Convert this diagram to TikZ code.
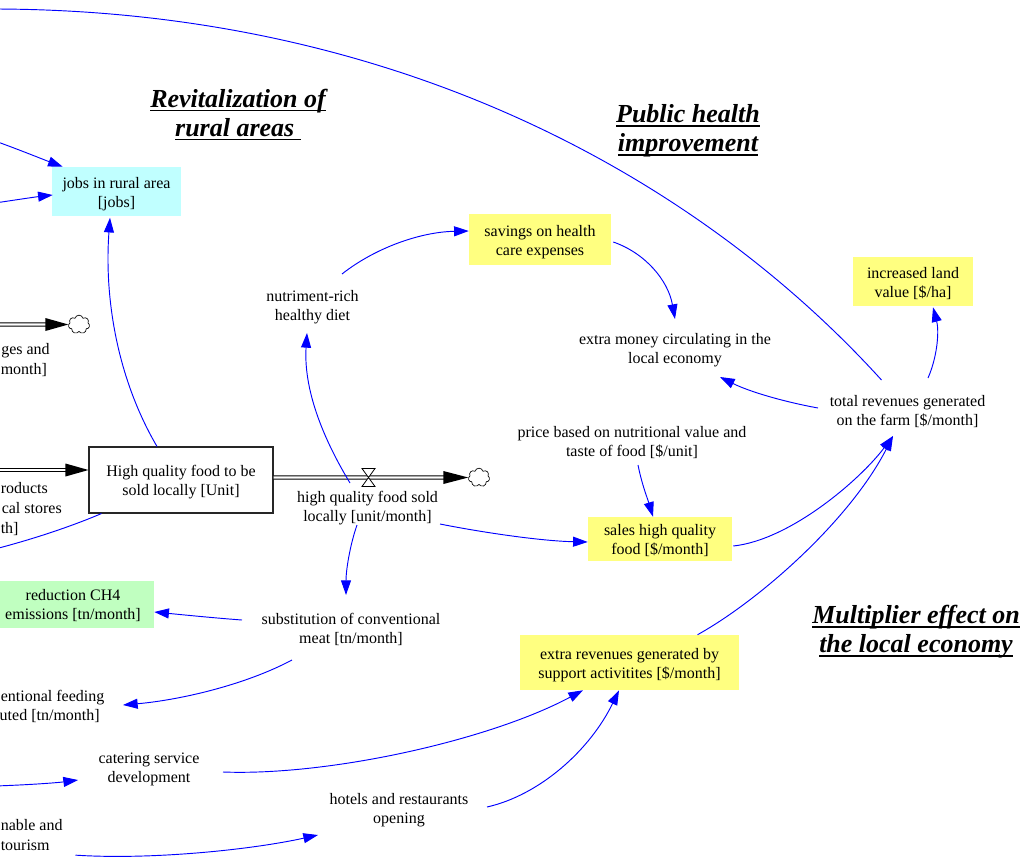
\documentclass[tikz,border=0pt]{standalone}
\usepackage{fontspec}
\setmainfont{Liberation Serif}
\usetikzlibrary{arrows.meta,shapes.symbols,calc}

\definecolor{linkblue}{RGB}{0,0,255}
\definecolor{cyanfill}{RGB}{192,255,255}
\definecolor{yellowfill}{RGB}{255,255,128}
\definecolor{greenfill}{RGB}{192,255,192}

% thick underline for the sector headings
\newsavebox{\ulbox}
\newcommand{\thickul}[1]{\sbox{\ulbox}{#1}\rlap{\rule[-3.2pt]{\wd\ulbox}{1.3pt}}\usebox{\ulbox}}
% fixed first-line height and last-line depth, so every label sits alike
\newcommand{\topstrut}{\rule{0pt}{13pt}}
\newcommand{\botstrut}{\rule[-3.3pt]{0pt}{3.3pt}}

\tikzset{
  lbl/.style={align=center, inner sep=0pt, font=\fontsize{12}{14.25}\selectfont,
              execute at begin node={\topstrut},
              execute at end node={\botstrut}},
  cut/.style={lbl, anchor=east},
  cutleft/.style={lbl, anchor=west},
  aux/.style={lbl, rectangle},
  heading/.style={align=center, inner sep=0pt, font=\fontsize{19.5}{21.75}\selectfont\bfseries\itshape},
  stockbox/.style={lbl, draw=black!85, line width=0.8pt, fill=white},
  link/.style={draw=linkblue, line width=0.7pt, -{Triangle[length=11pt,width=7.5pt]}, fill=none},
  linkout/.style={draw=linkblue, line width=0.7pt, fill=none},
  pipe/.style={double=white, double distance=1.8pt, line width=0.7pt, draw=black},
  sink/.style={cloud, cloud puffs=7, aspect=1.2, draw=black, line width=0.5pt, fill=white,
               minimum width=16pt, minimum height=14pt, inner sep=0pt},
  valvepart/.style={draw=black, line width=0.6pt, fill=white}
}

\begin{document}
\begin{tikzpicture}[x=0.75pt, y=-0.75pt]
\useasboundingbox (0,0) rectangle (1030,860);

% ---------- sector headings ----------
\node[heading] (tRural)  at (238,114.5) {\thickul{Revitalization of}\\\thickul{rural areas\ }};
\node[heading] (tHealth) at (688,130.5) {\thickul{Public health}\\\thickul{improvement}};
\node[heading] (tMult)   at (916,632)   {\thickul{Multiplier effect on}\\\thickul{the local economy}};

% ---------- coloured variables ----------
\node[aux, fill=cyanfill,   minimum width=96.75pt,  minimum height=36.75pt] (jobs)     at (116.5,191.5) {\topstrut jobs in rural area\\{}[jobs]\botstrut};
\node[aux, fill=yellowfill, minimum width=106.5pt,  minimum height=38.25pt] (savings)  at (540,239.5)   {\topstrut savings on health\\care expenses\botstrut};
\node[aux, fill=yellowfill, minimum width=90pt,     minimum height=36.75pt] (land)     at (913,281.5)   {\topstrut increased land\\value [\$/ha]\botstrut};
\node[aux, fill=yellowfill, minimum width=108pt,    minimum height=33pt]    (sales)    at (660,539)     {\topstrut sales high quality\\food [\$/month]\botstrut};
\node[aux, fill=yellowfill, minimum width=164.25pt, minimum height=41.25pt] (extrarev) at (629.5,662.5) {\topstrut extra revenues generated by\\support activitites [\$/month]\botstrut};
\node[aux, fill=greenfill,  minimum width=121.5pt,  minimum height=35.25pt] (ch4)      at (73,604)      {\topstrut reduction CH4\\emissions [tn/month]\botstrut};

% ---------- stock ----------
\node[stockbox, minimum width=138pt, minimum height=49.5pt] (stock) at (181,480) {\topstrut High quality food to be\\sold locally [Unit]\botstrut};

% ---------- plain variables ----------
\node[lbl] (nutri)    at (312.5,305)   {\topstrut nutriment-rich\\healthy diet\botstrut};
\node[lbl] (money)    at (675,348)     {\topstrut extra money circulating in the\\local economy\botstrut};
\node[lbl] (total)    at (907.5,410)   {\topstrut total revenues generated\\on the farm [\$/month]\botstrut};
\node[lbl] (price)    at (632,441)     {\topstrut price based on nutritional value and\\taste of food [\$/unit]\botstrut};
\node[lbl] (flowlbl)  at (367.5,505.5) {\topstrut high quality food sold\\locally [unit/month]\botstrut};
\node[lbl] (subst)    at (351,628)     {\topstrut substitution of conventional\\meat [tn/month]\botstrut};
\node[lbl] (catering) at (149,766.5)   {\topstrut catering service\\development\botstrut};
\node[lbl] (hotels)   at (399,808)     {\topstrut hotels and restaurants\\opening\botstrut};

% ---------- labels running in from the left margin ----------
\node[cut]     (gesA)  at (50,348)  {ges and};
\node[cutleft] (gesB)  at (0.5,368) {month]};
\node[cutleft] (prodA) at (0.5,487) {roducts};
\node[cut]     (prodB) at (62,507)  {cal stores};
\node[cutleft] (prodC) at (0.5,527) {th]};
\node[cutleft] (feedA) at (0.5,695) {entional feeding};
\node[cut]     (feedB) at (100,714) {uted [tn/month]};
\node[cutleft] (tourA) at (0.5,824) {nable and};
\node[cutleft] (tourB) at (0.5,844) {tourism};

% ---------- off-page ends ----------
\coordinate (offTop)   at (-5,9);
\coordinate (offJobsA) at (-5,141);
\coordinate (offJobsB) at (-5,203);
\coordinate (offStock) at (-5,549);
\coordinate (offCater) at (-5,786);
\coordinate (offFlowA) at (-5,324.5);
\coordinate (offFlowB) at (-5,470);

% ---------- flows ----------
\node[sink] (cloudA) at (79,324.5) {};
\node[sink] (cloudB) at (479,477.5) {};

\draw[pipe] (offFlowA) -- ($(cloudA.west)+(-22,0)$);
\fill ($(cloudA.west)+(-23,-6.5)$) -- (cloudA.west) -- ($(cloudA.west)+(-23,6.5)$) -- cycle;

\draw[pipe] (offFlowB) -- ($(stock.west)+(-22,-10)$);
\fill ($(stock.west)+(-23,-16.5)$) -- ($(stock.west)+(0,-10)$) -- ($(stock.west)+(-23,-3.5)$) -- cycle;

\draw[pipe] ($(stock.east)+(0,-2.5)$) -- ($(cloudB.west)+(-24,0)$);
\fill ($(cloudB.west)+(-25,-6.5)$) -- (cloudB.west) -- ($(cloudB.west)+(-25,6.5)$) -- cycle;
% valve on the outflow
\draw[valvepart] (362,468.5) -- (375,468.5) -- (368.5,477.5) -- cycle;
\draw[valvepart] (362,486.5) -- (375,486.5) -- (368.5,477.5) -- cycle;

% ---------- causal links ----------
\draw[linkout] ($(total)+(-26,-30)$) .. controls (700,180) and (400,10) .. (offTop);
\draw[link] (offJobsA) .. controls (20,150) and (42,159) .. ($(jobs.north west)+(11,0)$);
\draw[link] (offJobsB) .. controls (15,200) and (35,197) .. ($(jobs.west)+(1,3.5)$);
\draw[link] ($(stock.north)+(-24,0)$) .. controls (118,380) and (104,300) .. ($(jobs.south)+(-6.5,1.5)$);
\draw[linkout] ($(stock.south west)+(13,0)$) .. controls (70,527) and (30,540) .. (offStock);

\draw[link] ($(flowlbl)+(-17.5,-22.5)$) .. controls (315,425) and (304,380) .. ($(nutri)+(-5.5,28)$);
\draw[link] ($(nutri)+(29.5,-31)$) .. controls (375,248) and (420,232) .. ($(savings.west)+(0,-8.5)$);
\draw[link] ($(savings.east)+(2,2.5)$) .. controls (645,253) and (668,280) .. ($(money)+(0,-29)$);
\draw[link] ($(total)+(-89.5,-2)$) .. controls (785,402) and (750,392) .. ($(money)+(45,29)$);
\draw[link] ($(total)+(20.5,-32)$) .. controls (938,355) and (939,330) .. ($(land.south)+(20,1)$);

\draw[link] ($(price)+(6,24)$) .. controls (642,485) and (648,500) .. ($(sales.north)+(-7,0)$);
\draw[link] ($(flowlbl)+(72.5,18.5)$) .. controls (480,532) and (540,541) .. ($(sales.west)+(0,3)$);
\draw[link] ($(sales.east)+(1,7)$) .. controls (790,540) and (860,480) .. ($(total)+(-14.5,26)$);
\draw[link] ($(extrarev.north)+(68,0)$) .. controls (760,600) and (850,520) .. ($(total)+(-14.5,26)$);

\draw[link] ($(flowlbl)+(-10.5,19.5)$) .. controls (350,545) and (346,570) .. ($(subst)+(-5,-33)$);
\draw[link] ($(subst)+(-109,-8)$) .. controls (215,618) and (185,615) .. ($(ch4.east)+(0,8)$);
\draw[link] ($(subst)+(-59,32)$) .. controls (245,685) and (180,700) .. ($(feedB.east)+(23,-9)$);

\draw[link] (offCater) .. controls (25,785) and (55,783) .. ($(catering)+(-71,13.5)$);
\draw[link] ($(catering)+(74,5.5)$) .. controls (330,776) and (490,740) .. ($(extrarev.south)+(-46.5,0)$);
\draw[link] ($(tourB.south west)+(75,0)$) .. controls (150,860) and (250,850) .. ($(hotels)+(-81,27)$);
\draw[link] ($(hotels)+(88,-1)$) .. controls (540,795) and (590,750) .. ($(extrarev.south)+(-10.5,0)$);

\end{tikzpicture}
\end{document}
